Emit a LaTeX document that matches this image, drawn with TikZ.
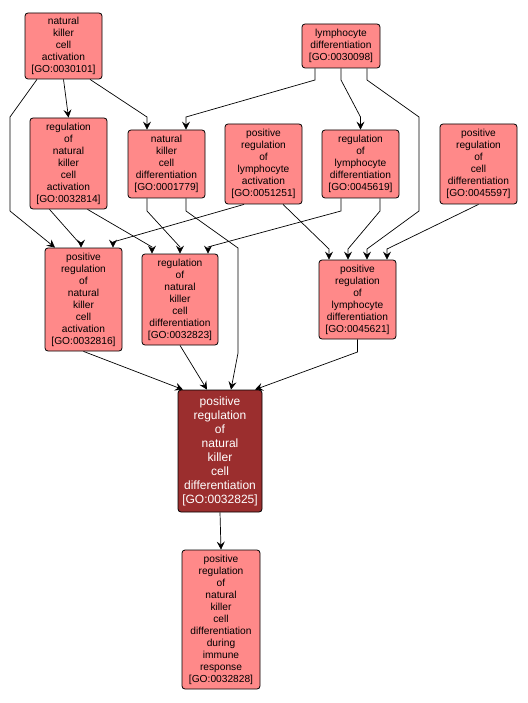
\documentclass[tikz,border=0pt]{standalone}
\usepackage{fontspec}
\setmainfont{Liberation Sans}
\usepackage{tikz}
\usetikzlibrary{positioning,calc}
\usetikzlibrary{arrows.meta}
\definecolor{GoPink}{RGB}{255,137,137}
\definecolor{GoDark}{RGB}{155,46,46}
\tikzset{
  term/.style={draw=black,fill=GoPink,rounded corners=3pt,inner sep=0pt,line width=0.8pt,
    align=center,font=\fontsize{10.2}{12}\selectfont},
  focus/.style={term,fill=GoDark,text=white,font=\fontsize{12}{14}\selectfont},
  link/.style={draw=black,line width=0.7pt,-{Stealth[length=8pt,width=8pt,inset=3pt]}},
}

\begin{document}
\begin{tikzpicture}[x=1pt,y=-1pt]
\useasboundingbox (0,0) rectangle (527,703);
% terms
\node[term,minimum width=77pt,minimum height=66pt] (nka) at (63.5,46) {natural\\killer\\cell\\activation\\{[GO:0030101]}};
\node[term,minimum width=78pt,minimum height=44pt] (lyd) at (341,46) {lymphocyte\\differentiation\\{[GO:0030098]}};
\node[term,minimum width=77pt,minimum height=91pt] (rnka) at (68.5,163.5) {regulation\\of\\natural\\killer\\cell\\activation\\{[GO:0032814]}};
\node[term,minimum width=77pt,minimum height=68pt] (nkd) at (166.5,164) {natural\\killer\\cell\\differentiation\\{[GO:0001779]}};
\node[term,minimum width=77pt,minimum height=80pt] (prla) at (263.5,164) {positive\\regulation\\of\\lymphocyte\\activation\\{[GO:0051251]}};
\node[term,minimum width=77pt,minimum height=68pt] (rld) at (360.5,164) {regulation\\of\\lymphocyte\\differentiation\\{[GO:0045619]}};
\node[term,minimum width=77pt,minimum height=80pt] (prcd) at (478.5,164) {positive\\regulation\\of\\cell\\differentiation\\{[GO:0045597]}};
\node[term,minimum width=77pt,minimum height=103pt] (prnka) at (83.5,299.5) {positive\\regulation\\of\\natural\\killer\\cell\\activation\\{[GO:0032816]}};
\node[term,minimum width=76pt,minimum height=91pt] (rnkd) at (180,299.5) {regulation\\of\\natural\\killer\\cell\\differentiation\\{[GO:0032823]}};
\node[term,minimum width=77pt,minimum height=79pt] (prld) at (357.5,299.5) {positive\\regulation\\of\\lymphocyte\\differentiation\\{[GO:0045621]}};
\node[focus,minimum width=84pt,minimum height=122pt] (prnkd) at (220,451) {positive\\regulation\\of\\natural\\killer\\cell\\differentiation\\{[GO:0032825]}};
\node[term,minimum width=78pt,minimum height=139pt] (prnkdi) at (221,619.5) {positive\\regulation\\of\\natural\\killer\\cell\\differentiation\\during\\immune\\response\\{[GO:0032828]}};
% links
\draw[link] (nka.south) -- (rnka.north);
\draw[link] ([xshift=26.5pt]nka.south) -- (147,117) -- ([xshift=-19.5pt]nkd.north);
\draw[link] ([xshift=-26.5pt]nka.south) -- (10,117) -- (10,211) -- ([xshift=-28.5pt]prnka.north);
\draw[link] ([xshift=-26pt]lyd.south) -- (315,80) -- (186,117) -- ([xshift=19.5pt]nkd.north);
\draw[link] (lyd.south) -- (341,80) -- (360.5,117) -- (rld.north);
\draw[link] ([xshift=26pt]lyd.south) -- (367,80) -- (419,117) -- (419,211) -- (367,249) -- ([xshift=9.5pt]prld.north);
\draw[link] ([xshift=19.5pt]prla.south) -- (329,249) -- ([xshift=-28.5pt]prld.north);
\draw[link] ([xshift=19.5pt]rld.south) -- (380,211) -- (348,249) -- ([xshift=-9.5pt]prld.north);
\draw[link] (prcd.south) -- (387,249) -- ([xshift=29.5pt]prld.north);
\draw[link] ([xshift=-19.5pt]rld.south) -- (341,211) -- (208,247) -- ([xshift=28pt]rnkd.north);
\draw[link] ([xshift=-19.5pt]prla.south) -- (113,242) -- ([xshift=29.5pt]prnka.north);
\draw[link] ([xshift=-19pt]rnka.south) -- (81,245) -- ([xshift=-2.5pt]prnka.north);
\draw[link] ([xshift=19pt]rnka.south) -- (152,247) -- ([xshift=-28pt]rnkd.north);
\draw[link] ([xshift=-19.5pt]nkd.south) -- (147,211) -- (180,247) -- (rnkd.north);
\draw[link] ([xshift=19.5pt]nkd.south) -- (186,211) -- (238,248) -- (238,353) -- ([xshift=11pt]prnkd.north);
\draw[link] (prnka.south) -- ([xshift=-37pt]prnkd.north);
\draw[link] (rnkd.south) -- ([xshift=-13pt]prnkd.north);
\draw[link] (prld.south) -- (357.5,352) -- ([xshift=35pt]prnkd.north);
\draw[link] (prnkd.south) -- (prnkdi.north);
\end{tikzpicture}
\end{document}
